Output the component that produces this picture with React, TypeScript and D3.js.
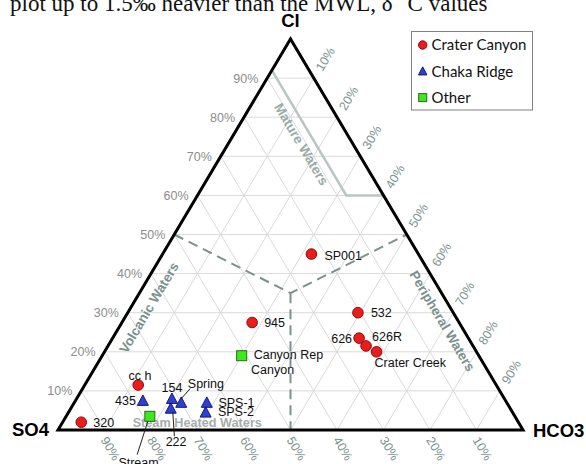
import React from "react";
import * as d3 from "d3";

// ---- Sample compositions (relative %, SO4 / HCO3 / Cl) ----
const craterNames = ["SP001", "532", "945", "626", "626R", "Crater Creek", "cc h", "320"];
const craterSO4 = [23, 20.5, 44.5, 23.5, 23, 21.5, 77, 94];
const craterHCO3 = [32, 49.5, 28, 53, 55.5, 58.5, 11.5, 4];
const craterCl = [45, 30, 27.5, 23.5, 21.5, 20, 11.5, 2];

const chakaNames = ["435", "154", "Spring", "222", "SPS-1", "SPS-2"];
const chakaSO4 = [78, 71.5, 70, 73, 64.5, 66];
const chakaHCO3 = [14.5, 20.5, 23, 21.5, 28.5, 29.5];
const chakaCl = [7.5, 8, 7, 5.5, 7, 4.5];

const otherNames = ["Canyon Rep Canyon", "Stream"];
const otherSO4 = [51, 78.5];
const otherHCO3 = [30, 18];
const otherCl = [19, 3.5];

const groupNames = ["Crater Canyon", "Chaka Ridge", "Other"];
const tickValues = [10, 20, 30, 40, 50, 60, 70, 80, 90];

// ---- Layout ----
const W = 586;
const H = 464;
const x = d3.scaleLinear().domain([0, 1]).range([58, 523]);
const y = d3.scaleLinear().domain([0, 1]).range([430, 39]);

// ternary -> screen
function proj(so4: number, hco3: number, cl: number): [number, number] {
  const s = so4 + hco3 + cl;
  const c = cl / s;
  const h = hco3 / s;
  return [x(h + c / 2), y(c)];
}

const EDGE_ANGLE = (Math.atan2(y(0) - y(1), x(0.5) - x(0)) * 180) / Math.PI;

const SANS = "'Liberation Sans', Arial, sans-serif";
const TEAL = "#7b918e";
const RED = "#ec1c1c";
const RED_STROKE = "#8a0c0c";
const BLUE = "#2e3fd8";
const BLUE_STROKE = "#141a70";
const GREEN = "#3ee81e";
const GREEN_STROKE = "#2a6a18";

type LabelSpec = {
  lines: string[];
  dx: number[];
  dy: number[];
  anchor: "start" | "middle" | "end";
  leader?: [number, number, number, number];
};

// label placement relative to each marker
const labelLayout: Record<string, LabelSpec> = {
  SP001: { lines: ["SP001"], dx: [13], dy: [5.5], anchor: "start" },
  "532": { lines: ["532"], dx: [13], dy: [4.5], anchor: "start" },
  "945": { lines: ["945"], dx: [12], dy: [4.5], anchor: "start" },
  "626": { lines: ["626"], dx: [-7], dy: [4.5], anchor: "end" },
  "626R": { lines: ["626R"], dx: [6], dy: [-4.5], anchor: "start" },
  "Crater Creek": { lines: ["Crater Creek"], dx: [-2], dy: [15.5], anchor: "start" },
  "cc h": { lines: ["cc h"], dx: [1.7], dy: [-5.2], anchor: "middle" },
  "320": { lines: ["320"], dx: [12], dy: [4.5], anchor: "start" },
  "435": { lines: ["435"], dx: [-7], dy: [4.5], anchor: "end" },
  "154": { lines: ["154"], dx: [0], dy: [-6.5], anchor: "middle" },
  Spring: { lines: ["Spring"], dx: [6.6], dy: [-14.5], anchor: "start", leader: [0, -4, 9, -14] },
  "222": { lines: ["222"], dx: [5.3], dy: [37.9], anchor: "middle", leader: [2, 3, 3.6, 27.7] },
  "SPS-1": { lines: ["SPS-1"], dx: [11.6], dy: [4.5], anchor: "start" },
  "SPS-2": { lines: ["SPS-2"], dx: [12.3], dy: [4], anchor: "start" },
  "Canyon Rep Canyon": { lines: ["Canyon Rep", "Canyon"], dx: [12, 9.4], dy: [2.8, 18.5], anchor: "start" },
  Stream: { lines: ["Stream"], dx: [-11.3], dy: [50.8], anchor: "middle", leader: [-2, 5, -12.7, 38.3] },
};

function Circle({ cx, cy, r }: { cx: number; cy: number; r: number }) {
  return <circle cx={cx} cy={cy} r={r} fill={RED} stroke={RED_STROKE} strokeWidth={1} />;
}
function Tri({ cx, cy, s }: { cx: number; cy: number; s: number }) {
  const h = s * 0.95;
  const pts = [
    [cx, cy - h * 0.55],
    [cx + s / 2, cy + h * 0.45],
    [cx - s / 2, cy + h * 0.45],
  ];
  return <polygon points={pts.map((p) => p.join(",")).join(" ")} fill={BLUE} stroke={BLUE_STROKE} strokeWidth={1} />;
}
function Sq({ cx, cy, s }: { cx: number; cy: number; s: number }) {
  return <rect x={cx - s / 2} y={cy - s / 2} width={s} height={s} fill={GREEN} stroke={GREEN_STROKE} strokeWidth={1} />;
}

function PointLabel({ name, px, py }: { name: string; px: number; py: number }) {
  const spec = labelLayout[name];
  if (!spec) return null;
  return (
    <g>
      {spec.leader && (
        <line
          x1={px + spec.leader[0]}
          y1={py + spec.leader[1]}
          x2={px + spec.leader[2]}
          y2={py + spec.leader[3]}
          stroke="#222"
          strokeWidth={1}
        />
      )}
      {spec.lines.map((t, i) => (
        <text
          key={i}
          x={px + spec.dx[i]}
          y={py + spec.dy[i]}
          textAnchor={spec.anchor}
          fontFamily={SANS}
          fontSize={12.5}
          fill="#111"
        >
          {t}
        </text>
      ))}
    </g>
  );
}

export default function App() {
  const left = proj(1, 0, 0);
  const right = proj(0, 1, 0);
  const apex = proj(0, 0, 1);

  // grid lines every 10%
  const grid: [number, number, number, number][] = [];
  tickValues.forEach((t) => {
    const v = t / 100;
    const a1 = proj(1 - v, 0, v), a2 = proj(0, 1 - v, v);
    grid.push([a1[0], a1[1], a2[0], a2[1]]);
    const b1 = proj(1 - v, v, 0), b2 = proj(0, v, 1 - v);
    grid.push([b1[0], b1[1], b2[0], b2[1]]);
    const c1 = proj(v, 1 - v, 0), c2 = proj(v, 0, 1 - v);
    grid.push([c1[0], c1[1], c2[0], c2[1]]);
  });

  // field boundaries
  const centre = proj(32.5, 32.5, 35);
  const dashPath = d3.line()([proj(50, 0, 50), centre, proj(0, 50, 50)]);
  const dashVert = d3.line()([centre, proj(50, 50, 0)]);
  const maturePath = d3.line()([proj(8, 0, 92), proj(8, 32, 60), proj(0, 40, 60)]);

  const angle = EDGE_ANGLE;

  const regionLabels = [
    { text: "Mature Waters", pos: proj(11.1, 15.8, 73.1), rot: angle, size: 13.5, fill: "#9aaba8" },
    { text: "Volcanic Waters", pos: proj(64.8, 3.9, 31.3), rot: -angle, size: 13.5, fill: TEAL },
    { text: "Peripheral Waters", pos: proj(3.4, 68.7, 27.9), rot: angle, size: 13.5, fill: TEAL },
    { text: "Steam Heated Waters", pos: proj(69.1, 29, 1.9), rot: 0, size: 12.7, fill: "#a6adac" },
  ];

  return (
    <div style={{ position: "absolute", left: 0, top: 0, width: W, height: H, background: "#fff" }}>
      <svg width={W} height={H} viewBox={`0 0 ${W} ${H}`} style={{ display: "block" }}>
        <rect width={W} height={H} fill="#fff" />
        {/* running text from the page above the figure */}
        <text x={10} y={11} fontFamily="'Liberation Serif', 'Times New Roman', serif" fontSize={23} fill="#111">
          plot up to 1.5‰ heavier than the MWL, δ
          <tspan dy={-11} fontSize={15}>13</tspan>
          <tspan dy={11}>C values</tspan>
        </text>

        {/* grid */}
        <g stroke="#dadada" strokeWidth={1}>
          {grid.map((g, i) => (
            <line key={i} x1={g[0]} y1={g[1]} x2={g[2]} y2={g[3]} />
          ))}
        </g>

        {/* field boundaries */}
        <path d={maturePath ?? ""} fill="none" stroke="#b9c6c3" strokeWidth={2.5} />
        <path d={dashPath ?? ""} fill="none" stroke="#7f918e" strokeWidth={2} strokeDasharray="10,6" />
        <path d={dashVert ?? ""} fill="none" stroke="#7f918e" strokeWidth={2} strokeDasharray="10,6" />

        {/* region names */}
        {regionLabels.map((r) => (
          <text
            key={r.text}
            transform={`translate(${r.pos[0]},${r.pos[1]}) rotate(${r.rot})`}
            textAnchor="middle"
            dy="0.35em"
            fontFamily={SANS}
            fontWeight="bold"
            fontSize={r.size}
            fill={r.fill}
          >
            {r.text}
          </text>
        ))}

        {/* triangle frame */}
        <path
          d={`M${left[0]},${left[1]}L${apex[0]},${apex[1]}L${right[0]},${right[1]}Z`}
          fill="none"
          stroke="#000"
          strokeWidth={3}
          strokeLinejoin="miter"
        />

        {/* Cl ticks on the left side */}
        {tickValues.map((t) => {
          const p = proj(100 - t, 0, t);
          return (
            <text key={"l" + t} x={p[0] - 9} y={p[1] + 4.5} textAnchor="end" fontFamily={SANS} fontSize={12.5} fill="#8c8c8c">
              {t}%
            </text>
          );
        })}
        {/* HCO3 ticks on the right side */}
        {tickValues.map((t) => {
          const p = proj(0, t, 100 - t);
          return (
            <text
              key={"r" + t}
              transform={`translate(${p[0] + 11.5},${p[1] - 19}) rotate(${-angle})`}
              textAnchor="middle"
              dy="0.35em"
              fontFamily={SANS}
              fontSize={12.5}
              fill={TEAL}
            >
              {t}%
            </text>
          );
        })}
        {/* SO4 ticks on the base */}
        {tickValues.map((t) => {
          const p = proj(t, 100 - t, 0);
          return (
            <text
              key={"b" + t}
              transform={`translate(${p[0] + 6},${p[1] + 18.5}) rotate(${angle})`}
              textAnchor="middle"
              dy="0.35em"
              fontFamily={SANS}
              fontSize={12.5}
              fill={TEAL}
            >
              {t}%
            </text>
          );
        })}

        {/* vertex names */}
        <text x={apex[0]} y={27} textAnchor="middle" fontFamily={SANS} fontWeight="bold" fontSize={18.5}>
          Cl
        </text>
        <text x={12} y={436} fontFamily={SANS} fontWeight="bold" fontSize={18.5}>
          SO4
        </text>
        <text x={533} y={437} fontFamily={SANS} fontWeight="bold" fontSize={18.5}>
          HCO3
        </text>

        {/* samples */}
        {otherNames.map((n, i) => {
          const p = proj(otherSO4[i], otherHCO3[i], otherCl[i]);
          return <Sq key={n} cx={p[0]} cy={p[1]} s={10} />;
        })}
        {chakaNames.map((n, i) => {
          const p = proj(chakaSO4[i], chakaHCO3[i], chakaCl[i]);
          return <Tri key={n} cx={p[0]} cy={p[1]} s={11} />;
        })}
        {craterNames.map((n, i) => {
          const p = proj(craterSO4[i], craterHCO3[i], craterCl[i]);
          return <Circle key={n} cx={p[0]} cy={p[1]} r={5.3} />;
        })}

        {/* sample labels */}
        {craterNames.map((n, i) => {
          const p = proj(craterSO4[i], craterHCO3[i], craterCl[i]);
          return <PointLabel key={"t" + n} name={n} px={p[0]} py={p[1]} />;
        })}
        {chakaNames.map((n, i) => {
          const p = proj(chakaSO4[i], chakaHCO3[i], chakaCl[i]);
          return <PointLabel key={"t" + n} name={n} px={p[0]} py={p[1]} />;
        })}
        {otherNames.map((n, i) => {
          const p = proj(otherSO4[i], otherHCO3[i], otherCl[i]);
          return <PointLabel key={"t" + n} name={n} px={p[0]} py={p[1]} />;
        })}

        {/* legend */}
        <g>
          <rect x={411.5} y={31.5} width={121} height={78.5} fill="#fff" stroke="#808080" strokeWidth={1} />
          {groupNames.map((g, i) => {
            const cy = 45 + i * 26.3;
            return (
              <g key={g}>
                {i === 0 && <Circle cx={422.7} cy={cy} r={4.2} />}
                {i === 1 && <Tri cx={422.7} cy={cy} s={8.5} />}
                {i === 2 && <Sq cx={422.7} cy={cy} s={8} />}
                <text x={431.5} y={cy + 5.2} fontFamily="Lato, 'Open Sans', sans-serif" fontSize={15} fill="#111">
                  {g}
                </text>
              </g>
            );
          })}
        </g>
      </svg>
    </div>
  );
}
